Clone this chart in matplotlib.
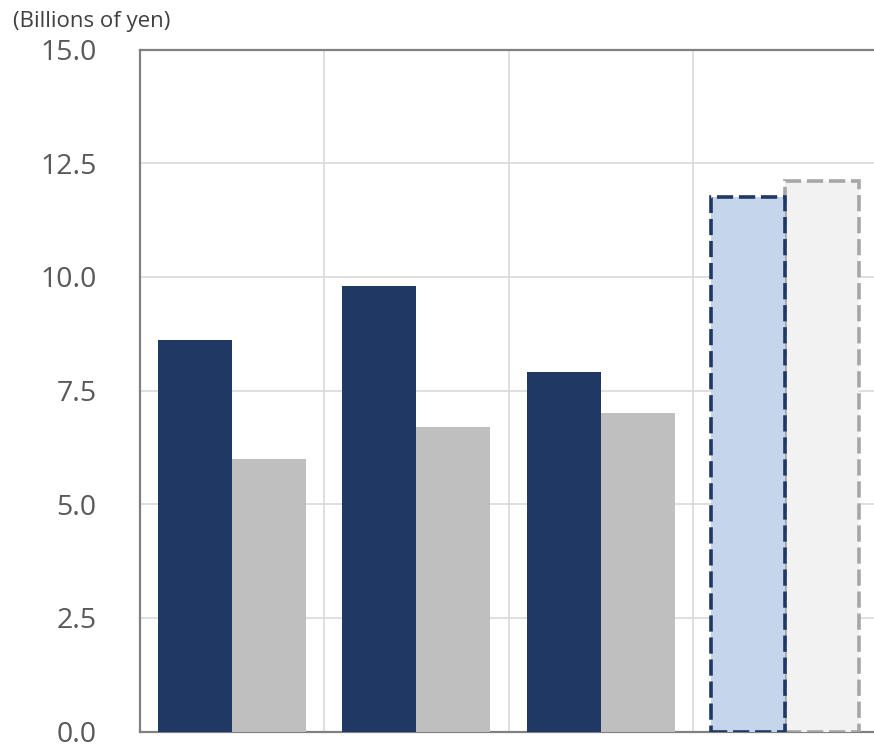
import numpy as np
import matplotlib
matplotlib.use("Agg")
import matplotlib.pyplot as plt

plt.rcParams['font.family'] = ['Open Sans', 'DejaVu Sans']

groups = ["FY1", "FY2", "FY3", "FY4 (forecast)"]
series_a = [8.6, 9.8, 7.9, 11.75]   # dark navy / light blue (forecast)
series_b = [6.0, 6.7, 7.0, 12.1]    # gray / light gray (forecast)
y_ticks = [0.0, 2.5, 5.0, 7.5, 10.0, 12.5, 15.0]
unit_label = "(Billions of yen)"

W, H = 874, 745
fig = plt.figure(figsize=(W / 100, H / 100), dpi=100)
left, right, top, bottom = 139.5, 877.5, 49.5, 731.5
ax = fig.add_axes([left / W, (H - bottom) / H, (right - left) / W, (bottom - top) / H])

x = np.arange(len(groups))
bw = 0.4
solid = slice(0, 3)
ax.bar(x[solid] - bw / 2, series_a[solid], width=bw, color="#1F3864", zorder=3, linewidth=0)
ax.bar(x[solid] + bw / 2, series_b[solid], width=bw, color="#BFBFBF", zorder=3, linewidth=0)
ax.bar(x[3] + bw / 2, series_b[3], width=bw, facecolor="#F2F2F2", edgecolor="#A6A6A6",
       linewidth=2.6, linestyle=(0, (4.5, 1.6)), zorder=3)
ax.bar(x[3] - bw / 2, series_a[3], width=bw, facecolor="#C5D6EC", edgecolor="#1F3864",
       linewidth=2.6, linestyle=(0, (4.5, 1.6)), zorder=4)

ax.set_xlim(-0.5, len(groups) - 0.5)
ax.set_ylim(0, 15)
ax.set_yticks(y_ticks)
ax.set_yticklabels([f"{v:.1f}" for v in y_ticks], fontsize=20.5, color="#595959")
ax.set_xticks([])
ax.set_xticks(x[:-1] + 0.5, minor=True)
ax.tick_params(axis='both', which='both', length=0)
ax.tick_params(axis='y', pad=31)
ax.grid(axis='y', which='major', color="#D9D9D9", linewidth=1.2, zorder=0)
ax.grid(axis='x', which='minor', color="#D9D9D9", linewidth=1.2, zorder=0)
ax.set_axisbelow(True)

for s in ['left', 'bottom', 'top']:
    ax.spines[s].set_color("#808080")
    ax.spines[s].set_linewidth(1.6)
ax.spines['right'].set_visible(False)

fig.text(13 / W, 1 - 22 / H, unit_label, fontsize=16, color="#404040", va='center', ha='left')

fig.savefig("out.png", dpi=100)
